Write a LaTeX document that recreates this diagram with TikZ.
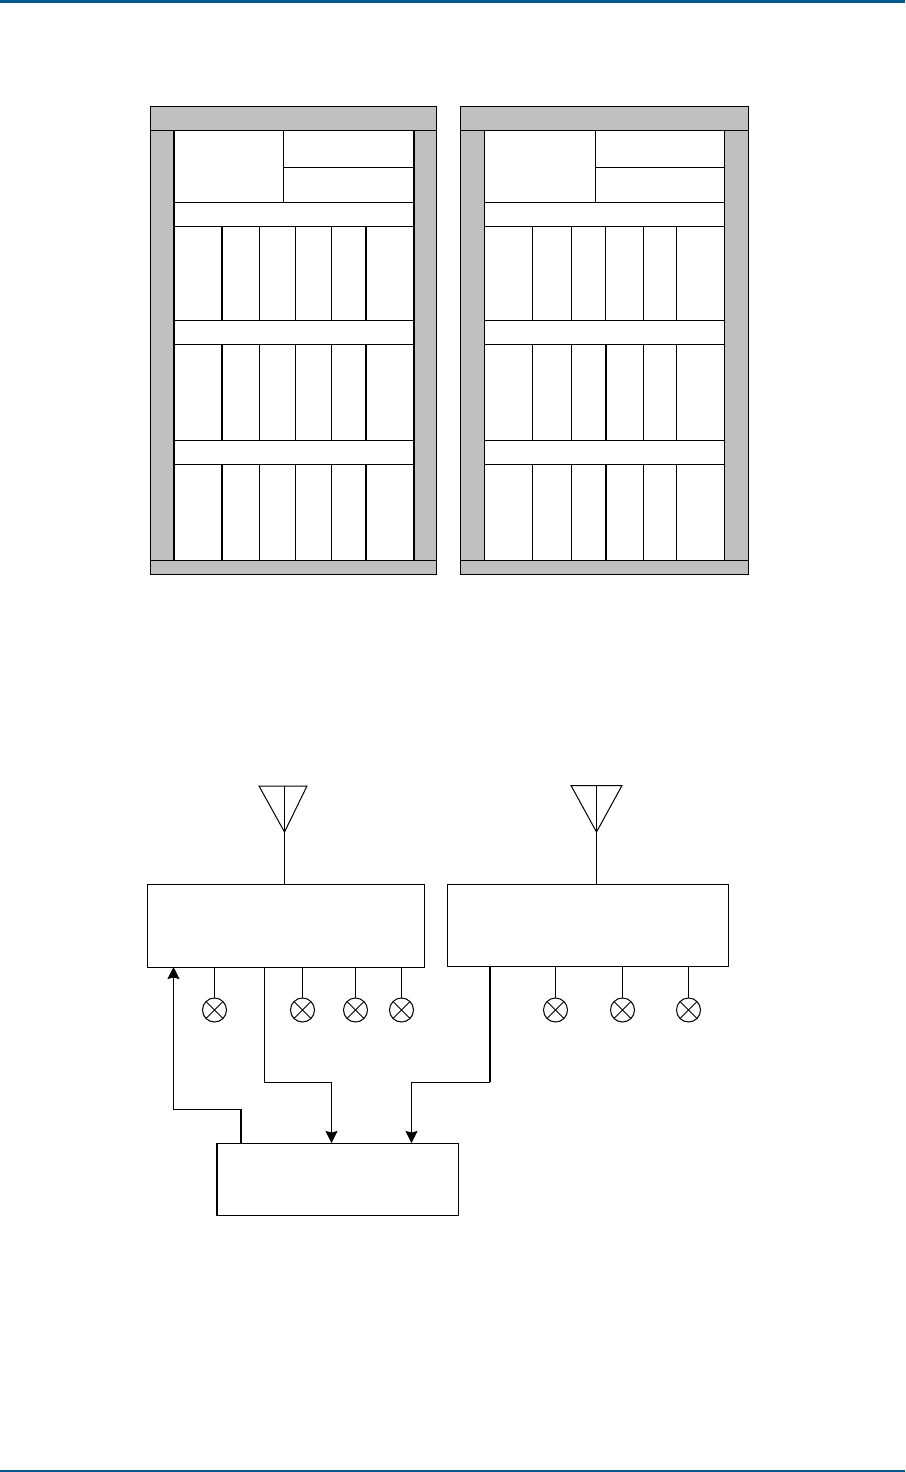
\documentclass[tikz,border=0pt]{standalone}
\usetikzlibrary{arrows.meta,calc}
\definecolor{rule}{HTML}{005A8F}
\definecolor{frame}{HTML}{C0C0C0}
\tikzset{
  thin line/.style={draw=black,line width=1pt},
  thick line/.style={draw=black,line width=2pt},
  band/.style={fill=frame,thin line},
  blockbox/.style={draw=black,line width=1pt,fill=white,rectangle,inner sep=0pt,outer sep=0pt},
  lamp/.style={draw=black,line width=1pt,fill=white,circle,inner sep=0pt,outer sep=0pt,minimum size=24pt},
  wire/.style={draw=black,line width=1pt},
  heavy wire/.style={draw=black,line width=2pt},
  arrowed/.style={-{Stealth[length=12pt,width=12pt,inset=1.5pt]}},
}
\newcommand{\cabinetframe}[4]{%
  \path[band] (#1,106) rectangle (#4,574.5);
  \path[blockbox] (#2,130) rectangle (#3,560.5);
  \draw[thin line] (#1,130) -- (#4,130);
  \draw[thin line] (#1,560.5) -- (#4,560.5);
  \foreach \yy in {202,226,320,344,440,464} \draw[thin line] (#2,\yy) -- (#3,\yy);
}
\begin{document}
\begin{tikzpicture}[x=1pt,y=-1pt]
\useasboundingbox (0,0) rectangle (905,1472);
\fill[rule] (0,0) rectangle (905,3);
\fill[rule] (0,1470) rectangle (905,1472);

% left cabinet
\cabinetframe{150}{174}{414}{436}
\draw[thick line] (174,130) -- (174,560.5);
\draw[thick line] (414,130) -- (414,560.5);
\draw[thin line] (283,130) -- (283,202);
\draw[thin line] (283,167) -- (414,167);
\foreach \ya/\yb in {226/320,344/440,464/560.5}{
  \draw[thick line] (222,\ya) -- (222,\yb);
  \draw[thin line] (259.5,\ya) -- (259.5,\yb);
  \draw[thin line] (295.5,\ya) -- (295.5,\yb);
  \draw[thin line] (331.5,\ya) -- (331.5,\yb);
  \draw[thick line] (366,\ya) -- (366,\yb);
}

% right cabinet
\cabinetframe{460.5}{484.5}{724.5}{748.5}
\draw[thin line] (595.5,130) -- (595.5,202);
\draw[thin line] (595.5,167) -- (724.5,167);
\foreach \ya/\yb in {226/320,344/440,464/560.5}{
  \draw[thin line] (532.5,\ya) -- (532.5,\yb);
  \draw[thin line] (571.5,\ya) -- (571.5,\yb);
  \draw[thin line] (643.5,\ya) -- (643.5,\yb);
  \draw[thin line] (676.5,\ya) -- (676.5,\yb);
}
\draw[thin line] (605.5,226) -- (605.5,320);
\draw[thick line] (606,344) -- (606,440);
\draw[thick line] (606,464) -- (606,560.5);

% blocks
\node[blockbox,minimum width=277pt,minimum height=83pt] (boxA) at (286,925.5) {};
\node[blockbox,minimum width=281.5pt,minimum height=82pt] (boxB) at (587.75,925) {};
\node[blockbox,minimum width=241.5pt,minimum height=72pt] (boxC) at (337.25,1179) {};
\draw[thick line] ($(boxC.north west)+(0.5,0)$) -- ($(boxC.south west)+(0.5,0)$);

% antennas
\coordinate (antA) at (284.5,832);
\coordinate (antB) at (596.5,832);
\draw[wire,line join=miter] (259,786) -- (307,786) -- (antA) -- cycle;
\draw[wire] (antA |- 0,786) -- (antA) -- (antA |- boxA.north);
\draw[wire,line join=miter] (571,785.5) -- (622,785.5) -- (antB) -- cycle;
\draw[wire] (antB |- 0,785.5) -- (antB) -- (antB |- boxB.north);

% lamps
\foreach \nm/\xx/\bx in {a/214.5/boxA,b/302.5/boxA,c/355.5/boxA,d/401.5/boxA,e/555.5/boxB,f/622.5/boxB,g/688.5/boxB}{
  \node[lamp] (lamp\nm) at (\xx,1010) {};
  \draw[wire] (lamp\nm.north west) -- (lamp\nm.south east);
  \draw[wire] (lamp\nm.north east) -- (lamp\nm.south west);
  \draw[wire] (lamp\nm.north |- \bx.south) -- (lamp\nm.north);
}

% connectors
\coordinate (cOut) at (240.5,1143);
\coordinate (cBend) at (240.5,1109);
\coordinate (cIn) at (173.5,967.5);
\coordinate (aOut) at (264.5,1082);
\coordinate (cInA) at (331.5,1082);
\coordinate (bOut) at (490,1082);
\coordinate (cInB) at (411.5,1082);
\draw[heavy wire] (cOut |- boxC.north) -- (cBend);
\draw[wire,arrowed] (cBend) -- (cIn |- cBend) -- (cIn |- boxA.south);
\draw[wire,arrowed] (aOut |- boxA.south) -- (aOut) -- (cInA) -- (cInA |- boxC.north);
\draw[heavy wire] (bOut |- boxB.south) -- (bOut);
\draw[wire,arrowed] (bOut) -- (cInB) -- (cInB |- boxC.north);
\end{tikzpicture}
\end{document}
